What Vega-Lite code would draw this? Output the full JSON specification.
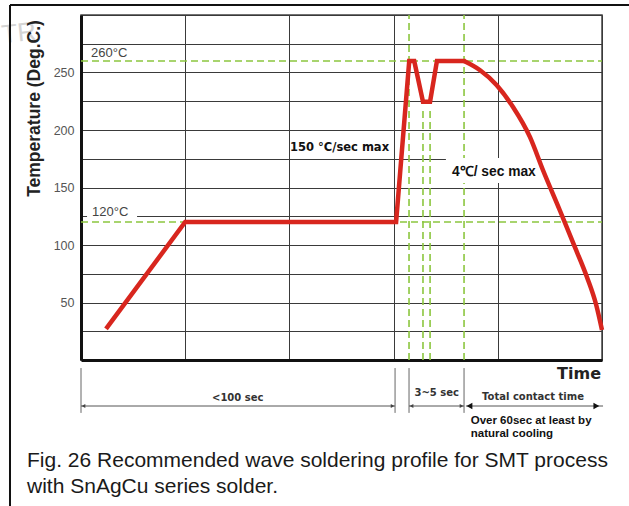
{
  "$schema": "https://vega.github.io/schema/vega-lite/v6.json",
  "width": 521,
  "height": 345,
  "autosize": {"type": "none"},
  "padding": {"left": 81, "top": 15, "right": 27, "bottom": 146},
  "background": "white",
  "config": {
    "view": {"stroke": "#444", "strokeWidth": 1.5},
    "axis": {"grid": true, "gridColor": "#3a3a3a", "gridWidth": 1, "gridOpacity": 1, "ticks": false, "domainColor": "#111", "domainWidth": 3, "title": null}
  },
  "encoding": {
    "x": {"field": "x", "type": "quantitative", "title": null,
      "scale": {"domain": [0, 250], "nice": false, "zero": false},
      "axis": {"values": [0, 50, 100, 150, 200, 250], "labels": false, "title": null}},
    "y": {"field": "y", "type": "quantitative", "title": null,
      "scale": {"domain": [0, 300], "nice": false, "zero": false},
      "axis": {"values": [0, 25, 50, 75, 100, 125, 150, 175, 200, 225, 250, 275, 300],
        "labelExpr": "(datum.value % 50 == 0 && datum.value > 0 && datum.value < 300) ? datum.label : ''",
        "labelColor": "#555", "labelFont": "Liberation Sans", "labelFontSize": 12.5, "labelPadding": 7, "title": null}}
  },
  "layer": [
    {
      "data": {"values": [{"x": -29.8, "y": 284, "label": "TR"}]},
      "mark": {"type": "text", "align": "center", "baseline": "middle", "angle": -6, "font": "Liberation Sans", "fontSize": 26, "color": "#d4d4d4"},
      "encoding": {"text": {"field": "label"}}
    },
    {
      "data": {"values": [{"x": 0, "x2": 250, "y": 260}, {"x": 0, "x2": 250, "y": 120}]},
      "mark": {"type": "rule", "color": "#8cc63f", "strokeWidth": 1.6, "strokeDash": [7, 4]},
      "encoding": {"x2": {"field": "x2"}}
    },
    {
      "data": {"values": [
        {"x": 157.4, "y": 0, "y2": 300},
        {"x": 164.1, "y": 0, "y2": 217},
        {"x": 167.5, "y": 0, "y2": 217},
        {"x": 183.8, "y": 0, "y2": 300}
      ]},
      "mark": {"type": "rule", "color": "#8cc63f", "strokeWidth": 1.6, "strokeDash": [7, 4]},
      "encoding": {"y2": {"field": "y2"}}
    },
    {
      "data": {"values": [
        {"x": 2.9, "x2": 26.9, "y": 122, "y2": 134},
        {"x": 175.1, "x2": 218.8, "y": 153.9, "y2": 175.7}
      ]},
      "mark": {"type": "rect", "color": "white"},
      "encoding": {"x2": {"field": "x2"}, "y2": {"field": "y2"}}
    },
    {
      "data": {"values": [
        {"x": 12, "y": 27}, {"x": 50, "y": 120}, {"x": 151.2, "y": 120},
        {"x": 157.5, "y": 260}, {"x": 159.9, "y": 260}, {"x": 164.1, "y": 224.6},
        {"x": 167.5, "y": 224.6}, {"x": 170.8, "y": 260}, {"x": 184.5, "y": 260}
      ]},
      "mark": {"type": "line", "color": "#d8261e", "strokeWidth": 4.5, "strokeJoin": "miter", "strokeCap": "butt", "clip": false}
    },
    {
      "data": {"values": [
        {"x": 183.8, "y": 260},
        {"x": 191.5, "y": 252}, {"x": 199.5, "y": 239}, {"x": 207.3, "y": 220},
        {"x": 215.4, "y": 194}, {"x": 221.7, "y": 165}, {"x": 229.8, "y": 130},
        {"x": 236.1, "y": 102}, {"x": 242.8, "y": 72}, {"x": 247.2, "y": 48},
        {"x": 250, "y": 26}
      ]},
      "mark": {"type": "line", "color": "#d8261e", "strokeWidth": 4.5, "interpolate": "monotone", "strokeCap": "butt", "clip": false}
    },
    {
      "data": {"values": [{"x": 4.8, "y": 267, "label": "260°C"}, {"x": 5.3, "y": 128.7, "label": "120°C"}]},
      "mark": {"type": "text", "align": "left", "baseline": "middle", "font": "Liberation Sans", "fontSize": 13, "color": "#444"},
      "encoding": {"text": {"field": "label"}}
    },
    {
      "data": {"values": [{"x": 100.3, "y": 184.3, "label": "150 °C/sec max"}]},
      "mark": {"type": "text", "align": "left", "baseline": "middle", "font": "DejaVu Sans", "fontWeight": "bold", "fontSize": 11.5, "color": "#111"},
      "encoding": {"text": {"field": "label"}}
    },
    {
      "data": {"values": [{"x": 178, "y": 163.5, "label": "4℃/ sec max"}]},
      "mark": {"type": "text", "align": "left", "baseline": "middle", "font": "Liberation Sans", "fontWeight": "bold", "fontSize": 13.8, "color": "#111"},
      "encoding": {"text": {"field": "label"}}
    },
    {
      "data": {"values": [{"x": 239, "y": -12.2, "label": "Time"}]},
      "mark": {"type": "text", "align": "center", "baseline": "middle", "font": "DejaVu Sans", "fontWeight": "bold", "fontSize": 16, "color": "#222"},
      "encoding": {"text": {"field": "label"}}
    },
    {
      "data": {"values": [
        {"x": 75.2, "y": -32.8, "label": "<100 sec"},
        {"x": 170.7, "y": -28.7, "label": "3~5 sec"},
        {"x": 216.9, "y": -32.2, "label": "Total contact time"}
      ]},
      "mark": {"type": "text", "align": "center", "baseline": "middle", "font": "DejaVu Sans", "fontWeight": "bold", "fontSize": 10, "color": "#333"},
      "encoding": {"text": {"field": "label"}}
    },
    {
      "data": {"values": [
        {"x": 187, "y": -53, "label": "Over 60sec at least by"},
        {"x": 187, "y": -64.3, "label": "natural cooling"}
      ]},
      "mark": {"type": "text", "align": "left", "baseline": "middle", "font": "Liberation Sans", "fontWeight": "bold", "fontSize": 11.5, "color": "#111"},
      "encoding": {"text": {"field": "label"}}
    },
    {
      "data": {"values": [
        {"x": -25.9, "y": -93, "label": "Fig. 26 Recommended wave soldering profile for SMT process"},
        {"x": -25.9, "y": -115.7, "label": "with SnAgCu series solder."}
      ]},
      "mark": {"type": "text", "align": "left", "baseline": "alphabetic", "font": "Liberation Sans", "fontSize": 21, "color": "#1a1a1a"},
      "encoding": {"text": {"field": "label"}}
    },
    {
      "data": {"values": [{"x": -22.1, "y": 218.7, "label": "Temperature (Deg.C.)"}]},
      "mark": {"type": "text", "align": "center", "baseline": "middle", "angle": 270, "font": "Liberation Sans", "fontWeight": "bold", "fontSize": 17.5, "color": "#222"},
      "encoding": {"text": {"field": "label"}}
    },
    {
      "data": {"values": [
        {"x": 0, "y": -7, "y2": -46},
        {"x": 150.7, "y": -7, "y2": -46},
        {"x": 157.4, "y": -7, "y2": -46},
        {"x": 183.8, "y": -7, "y2": -46}
      ]},
      "mark": {"type": "rule", "color": "#666", "strokeWidth": 1},
      "encoding": {"y2": {"field": "y2"}}
    },
    {
      "data": {"values": [
        {"x": 0, "x2": 150.7, "y": -40},
        {"x": 157.4, "x2": 183.8, "y": -40},
        {"x": 184.7, "x2": 250.5, "y": -40}
      ]},
      "mark": {"type": "rule", "color": "#555", "strokeWidth": 1},
      "encoding": {"x2": {"field": "x2"}}
    },
    {
      "data": {"values": [
        {"x": 1.2, "y": -40, "dir": "left"},
        {"x": 149.5, "y": -40, "dir": "right"},
        {"x": 158.6, "y": -40, "dir": "left"},
        {"x": 182.6, "y": -40, "dir": "right"}
      ]},
      "mark": {"type": "point", "filled": true, "size": 18, "color": "#444", "opacity": 1},
      "encoding": {"shape": {"field": "dir", "type": "nominal", "legend": null, "scale": {"domain": ["left", "right"], "range": ["triangle-left", "triangle-right"]}}}
    },
    {
      "data": {"values": [
        {"x": 186.4, "y": -40, "dir": "left"},
        {"x": 247.3, "y": -40, "dir": "right"}
      ]},
      "mark": {"type": "point", "filled": true, "size": 45, "color": "#111", "opacity": 1},
      "encoding": {"shape": {"field": "dir", "type": "nominal", "legend": null, "scale": {"domain": ["left", "right"], "range": ["triangle-left", "triangle-right"]}}}
    },
    {
      "data": {"values": [
        {"x": -34.07, "x2": 263, "y": 308.7}
      ]},
      "mark": {"type": "rule", "color": "#111", "strokeWidth": 2},
      "encoding": {"x2": {"field": "x2"}}
    },
    {
      "data": {"values": [
        {"x": -34.07, "y": 308.7, "y2": -127}
      ]},
      "mark": {"type": "rule", "color": "#111", "strokeWidth": 2},
      "encoding": {"y2": {"field": "y2"}}
    }
  ]
}
